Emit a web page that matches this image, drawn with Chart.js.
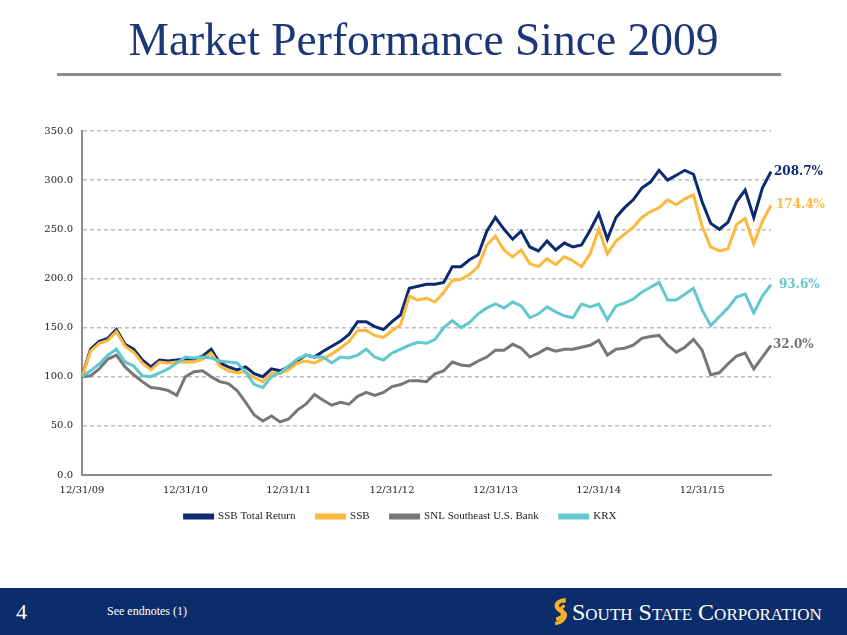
<!DOCTYPE html>
<html>
<head>
<meta charset="utf-8">
<script src="https://cdn.jsdelivr.net/npm/chart.js@4.4.1/dist/chart.umd.min.js"></script>
<style>
  html, body { margin: 0; padding: 0; background: #fff; }
  body { width: 847px; height: 635px; position: relative; overflow: hidden; font-family: 'Liberation Serif', serif; }
  #title { position: absolute; top: 13px; left: 0; width: 847px; text-align: center; font-size: 45.5px; color: #1c3778; z-index: 2; }
  #rule { position: absolute; left: 57px; top: 73px; width: 724px; height: 3px; background: #8c8c8c; }
  #chartBox { position: absolute; left: 0; top: 0; width: 847px; height: 541px; }
  #footer { position: absolute; left: 0; top: 588px; width: 847px; height: 47px; background: #0c2d6b; color: #fff; }
  #pageNum { position: absolute; left: 16px; top: 11px; font-size: 22px; }
  #endnote { position: absolute; left: 107px; top: 16px; font-size: 12px; }
  #logo { position: absolute; left: 552px; top: 9px; height: 30px; display: flex; align-items: center; }
  #logoText { font-size: 24px; font-variant: small-caps; letter-spacing: 0; margin-left: 3px; }
</style>
</head>
<body>
<div id="title">Market Performance Since 2009</div>
<div id="rule"></div>
<div id="chartBox"><canvas id="perfChart"></canvas></div>
<div id="footer">
  <div id="pageNum">4</div>
  <div id="endnote">See endnotes (1)</div>
  <div id="logo">
    <svg width="17" height="28" viewBox="0 0 16 26">
      <path d="M13 2 C4 2 2 8 7 11 C12 14 12 18 4 20" stroke="#f5b323" stroke-width="4" fill="none"/>
      <path d="M12 7 C7 9 9 12 11 13 C15 16 11 23 3 24" stroke="#f5b323" stroke-width="3" fill="none"/>
    </svg>
    <span id="logoText">South State Corporation</span>
  </div>
</div>
<script>
// month-end dates, 12/31/09 .. 8/31/16
const CATEGORIES = [
  '12/31/09',
  '1/31/10','2/28/10','3/31/10','4/30/10','5/31/10','6/30/10','7/31/10','8/31/10','9/30/10','10/31/10','11/30/10','12/31/10',
  '1/31/11','2/28/11','3/31/11','4/30/11','5/31/11','6/30/11','7/31/11','8/31/11','9/30/11','10/31/11','11/30/11','12/31/11',
  '1/31/12','2/29/12','3/31/12','4/30/12','5/31/12','6/30/12','7/31/12','8/31/12','9/30/12','10/31/12','11/30/12','12/31/12',
  '1/31/13','2/28/13','3/31/13','4/30/13','5/31/13','6/30/13','7/31/13','8/31/13','9/30/13','10/31/13','11/30/13','12/31/13',
  '1/31/14','2/28/14','3/31/14','4/30/14','5/31/14','6/30/14','7/31/14','8/31/14','9/30/14','10/31/14','11/30/14','12/31/14',
  '1/31/15','2/28/15','3/31/15','4/30/15','5/31/15','6/30/15','7/31/15','8/31/15','9/30/15','10/31/15','11/30/15','12/31/15',
  '1/31/16','2/29/16','3/31/16','4/30/16','5/31/16','6/30/16','7/31/16','8/31/16'
];
const TICK_LABELS = ['12/31/09', '12/31/10', '12/31/11', '12/31/12', '12/31/13', '12/31/14', '12/31/15'];

const SSB_TOTAL_RETURN = [
  100,
  128, 136, 139, 148, 133, 128, 117, 110, 117, 116, 117, 118,
  118, 121, 128, 114, 110, 107, 110, 103, 100, 108, 106, 110,
  116, 122, 120, 126, 131, 136, 143, 156, 156, 151, 148, 156,
  163, 190, 192, 194, 194, 196, 212, 212, 219, 224, 248, 262,
  250, 240, 248, 232, 228, 238, 229, 236, 232, 234, 249, 266,
  240, 262, 272, 280, 292, 298, 310, 300, 305, 310, 306, 278,
  256, 250, 257, 278, 290, 262, 292, 308.7
];
const SSB = [
  100,
  126, 134, 137, 146, 131, 125, 114, 107, 115, 114, 115, 115,
  115, 118, 124, 111, 106, 104, 105, 99, 95, 104, 103, 107,
  114, 116, 114, 118, 123, 129, 136, 147, 147, 142, 140, 147,
  153, 182, 178, 180, 176, 186, 198, 199, 204, 212, 234, 243,
  229, 222, 229, 215, 212, 220, 214, 222, 218, 212, 225, 250,
  225, 238, 245, 252, 262, 268, 272, 280, 275, 281, 285, 253,
  232, 228, 230, 255, 261, 235, 258, 274.4
];
const SNL_SOUTHEAST = [
  100,
  101, 108, 118, 122, 110, 102, 95, 89, 88, 86, 81, 100,
  105, 106, 100, 95, 93, 86, 74, 61, 55, 60, 54, 57,
  66, 72, 82, 76, 71, 74, 72, 80, 84, 81, 84, 90,
  92, 96, 96, 95, 103, 106, 115, 112, 111, 116, 120, 127,
  127, 133, 129, 120, 124, 129, 126, 128, 128, 130, 132, 137,
  122, 128, 129, 132, 139, 141, 142, 132, 125, 130, 138, 127,
  102, 104, 113, 121, 124, 108, 120, 132
];
const KRX = [
  100,
  106, 113, 122, 128, 115, 111, 101, 100, 104, 108, 114, 120,
  119, 120, 119, 116, 115, 114, 105, 92, 89, 100, 104, 111,
  118, 122, 120, 120, 114, 120, 119, 122, 128, 120, 117, 124,
  128, 132, 135, 134, 138, 150, 157, 150, 155, 164, 170, 174,
  170, 176, 172, 160, 164, 171, 166, 162, 160, 174, 171, 174,
  158, 172, 175, 179, 186, 191, 196, 178, 178, 184, 190, 168,
  152, 161, 170, 181, 184, 165, 182, 193.6
];
const SERIES_NAMES = ['SSB Total Return', 'SSB', 'SNL Southeast U.S. Bank', 'KRX'];
const END_LABELS = ['208.7%', '174.4%', '32.0%', '93.6%'];

const COLORS = ['#0b2a6f', '#fdb83d', '#777777', '#62c7cf'];

const endLabelPlugin = {
    id: 'endLabels',
    afterDatasetsDraw(chart) {
        const ctx = chart.ctx;
        const offsets = [3, 5, 2, 8];
        ctx.save();
        ctx.font = 'bold 12px "DejaVu Serif"';
        ctx.textBaseline = 'middle';
        ctx.textAlign = 'left';
        chart.data.datasets.forEach((ds, i) => {
            const meta = chart.getDatasetMeta(i);
            const last = meta.data[meta.data.length - 1];
            if (!last) return;
            ctx.fillStyle = ds.borderColor;
            ctx.fillText(END_LABELS[i], last.x + offsets[i], last.y);
        });
        ctx.restore();
    }
};

// pull the legend a bit closer to the axis labels
const legendShift = {
    id: 'legendShift',
    afterLayout(chart) {
        if (!chart.legend) return;
        chart.legend.top -= 9;
        chart.legend.bottom -= 9;
    }
};

const seriesData = [SSB_TOTAL_RETURN, SSB, SNL_SOUTHEAST, KRX];
const drawOrder = [3, 2, 1, 0];   // lower = on top; KRX drawn last

const ctx = document.getElementById('perfChart').getContext('2d');
new Chart(ctx, {
    type: 'line',
    data: {
        labels: CATEGORIES,
        datasets: seriesData.map((vals, i) => ({
            label: SERIES_NAMES[i],
            data: vals,
            borderColor: COLORS[i],
            backgroundColor: COLORS[i],
            borderWidth: 3,
            pointRadius: 0,
            tension: 0,
            fill: false,
            order: drawOrder[i]
        }))
    },
    options: {
        responsive: true,
        maintainAspectRatio: false,
        animation: false,
        layout: {
            padding: { top: 131, left: 30, right: 76, bottom: 0 }
        },
        scales: {
            x: {
                type: 'category',
                grid: { display: false, drawTicks: true, tickLength: 6 },
                border: { display: true, color: '#8c8c8c', width: 2 },
                ticks: {
                    autoSkip: false,
                    maxRotation: 0,
                    padding: 3,
                    color: '#222',
                    font: { family: 'DejaVu Serif', size: 10 },
                    callback: function (v, idx) {
                        const lbl = CATEGORIES[idx];
                        return TICK_LABELS.includes(lbl) ? lbl : '';
                    }
                }
            },
            y: {
                min: 0,
                max: 350,
                afterFit: (s) => { s.width = 52; },
                grid: { color: '#bdbdbd', lineWidth: 1.5, drawTicks: false },
                border: { display: true, color: '#8c8c8c', width: 2, dash: [4, 3] },
                ticks: {
                    stepSize: 50,
                    padding: 9,
                    color: '#222',
                    font: { family: 'DejaVu Serif', size: 10 },
                    callback: (v) => v.toFixed(1)
                }
            }
        },
        plugins: {
            legend: {
                position: 'bottom',
                labels: {
                    boxWidth: 28,
                    boxHeight: 3,
                    padding: 21,
                    color: '#222',
                    font: { family: 'Liberation Serif', size: 11 },
                    sort: (a, b) => a.datasetIndex - b.datasetIndex
                }
            },
            tooltip: { enabled: false }
        }
    },
    plugins: [endLabelPlugin, legendShift]
});
</script>
</body>
</html>
